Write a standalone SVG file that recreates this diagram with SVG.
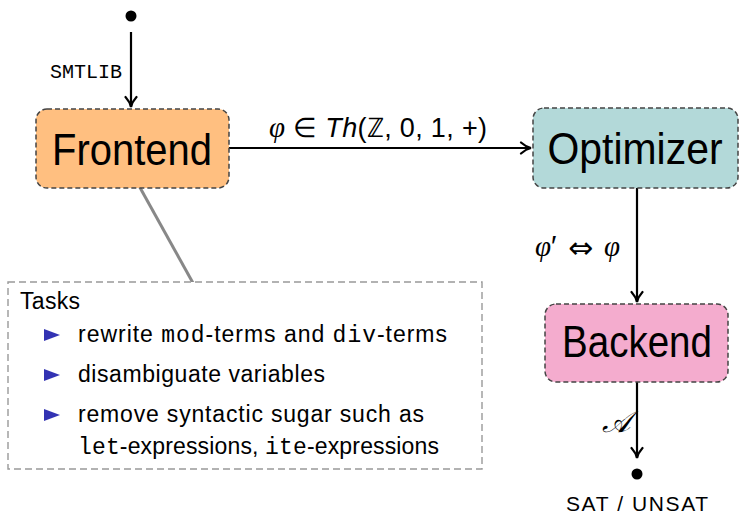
<svg xmlns="http://www.w3.org/2000/svg" width="739" height="514" viewBox="0 0 739 514">
  <style>
    .box { stroke: #444; stroke-width: 1.5; stroke-dasharray: 5 3; }
    .label { font-family: "Liberation Sans", Arial, sans-serif; fill: #000; }
    .mono { font-family: "Liberation Mono", "Courier New", monospace; }
    .math { font-family: "Liberation Serif", "DejaVu Serif", serif; font-style: italic; }
    .sym { font-family: "DejaVu Sans", sans-serif; }
    .edge { stroke: #000; stroke-width: 2.2; fill: none; }
    .task { font-family: "Liberation Sans", Arial, sans-serif; font-size: 23px; fill: #000; }
  </style>
  <defs>
    <marker id="arrow" viewBox="0 0 14 14" refX="12" refY="7" markerWidth="14" markerHeight="14" markerUnits="userSpaceOnUse" orient="auto">
      <path d="M2,1.5 Q7,6 12,7 Q7,8 2,12.5" fill="none" stroke="#000" stroke-width="2.2" stroke-linecap="round"/>
    </marker>
  </defs>

  <!-- connectors -->
  <g id="connectors">
    <circle cx="131" cy="16" r="5.5" fill="#000"/>
    <line class="edge" x1="131" y1="32" x2="131" y2="107" marker-end="url(#arrow)"/>
    <text class="label mono" x="50" y="78" font-size="20">SMTLIB</text>

    <line class="edge" x1="229" y1="148" x2="531" y2="148" marker-end="url(#arrow)"/>
    <text class="label" x="269" y="137" font-size="27" textLength="218" lengthAdjust="spacing"><tspan class="math" font-size="29">φ</tspan> ∈ <tspan font-style="italic">Th</tspan>(ℤ, 0, 1, +)</text>

    <line class="edge" x1="637" y1="188" x2="637" y2="302" marker-end="url(#arrow)"/>
    <text class="label" x="535" y="256" font-size="29"><tspan class="math">φ</tspan>′</text>
    <text class="sym" x="568" y="258" font-size="30">⇔</text>
    <text class="label math" x="604" y="256" font-size="29">φ</text>

    <line class="edge" x1="637" y1="382" x2="637" y2="458" marker-end="url(#arrow)"/>
    <text class="label math" x="602" y="432" font-size="30">𝒜</text>
    <circle cx="637" cy="474" r="5.5" fill="#000"/>
    <text class="label" x="637" y="511" font-size="21" text-anchor="middle" textLength="142" lengthAdjust="spacing">SAT / UNSAT</text>

    <line x1="133" y1="175" x2="193" y2="283" stroke="#888" stroke-width="3"/>
  </g>

  <!-- nodes -->
  <g id="frontend">
    <rect class="box" x="36" y="109" width="193" height="79" rx="11" fill="#FFBF80"/>
    <text class="label" x="132" y="165" font-size="44" text-anchor="middle" textLength="160" lengthAdjust="spacingAndGlyphs">Frontend</text>
  </g>

  <g id="optimizer">
    <rect class="box" x="533" y="108" width="205" height="80" rx="11" fill="#B3D9D9"/>
    <text class="label" x="635" y="164" font-size="44" text-anchor="middle" textLength="175" lengthAdjust="spacingAndGlyphs">Optimizer</text>
  </g>

  <g id="backend">
    <rect class="box" x="545" y="304" width="183" height="78" rx="11" fill="#F4ACCE"/>
    <text class="label" x="637" y="357" font-size="44" text-anchor="middle" textLength="150" lengthAdjust="spacingAndGlyphs">Backend</text>
  </g>

  <g id="tasks">
    <rect x="8" y="282" width="474" height="187" fill="#fff" stroke="#999" stroke-width="1.4" stroke-dasharray="7 4"/>
    <text class="task" x="20" y="309" textLength="60" lengthAdjust="spacing">Tasks</text>
    <path d="M44,329 L60,335 L44,341 Z" fill="#3333B3"/>
    <text class="task" x="78" y="342" textLength="369" lengthAdjust="spacing">rewrite <tspan class="mono">mod</tspan>-terms and <tspan class="mono">div</tspan>-terms</text>
    <path d="M44,369 L60,375 L44,381 Z" fill="#3333B3"/>
    <text class="task" x="78" y="382" textLength="247" lengthAdjust="spacing">disambiguate variables</text>
    <path d="M44,409 L60,415 L44,421 Z" fill="#3333B3"/>
    <text class="task" x="78" y="422" textLength="346" lengthAdjust="spacing">remove syntactic sugar such as</text>
    <text class="task" x="78" y="454" textLength="361" lengthAdjust="spacing"><tspan class="mono">let</tspan>-expressions, <tspan class="mono">ite</tspan>-expressions</text>
  </g>
</svg>
